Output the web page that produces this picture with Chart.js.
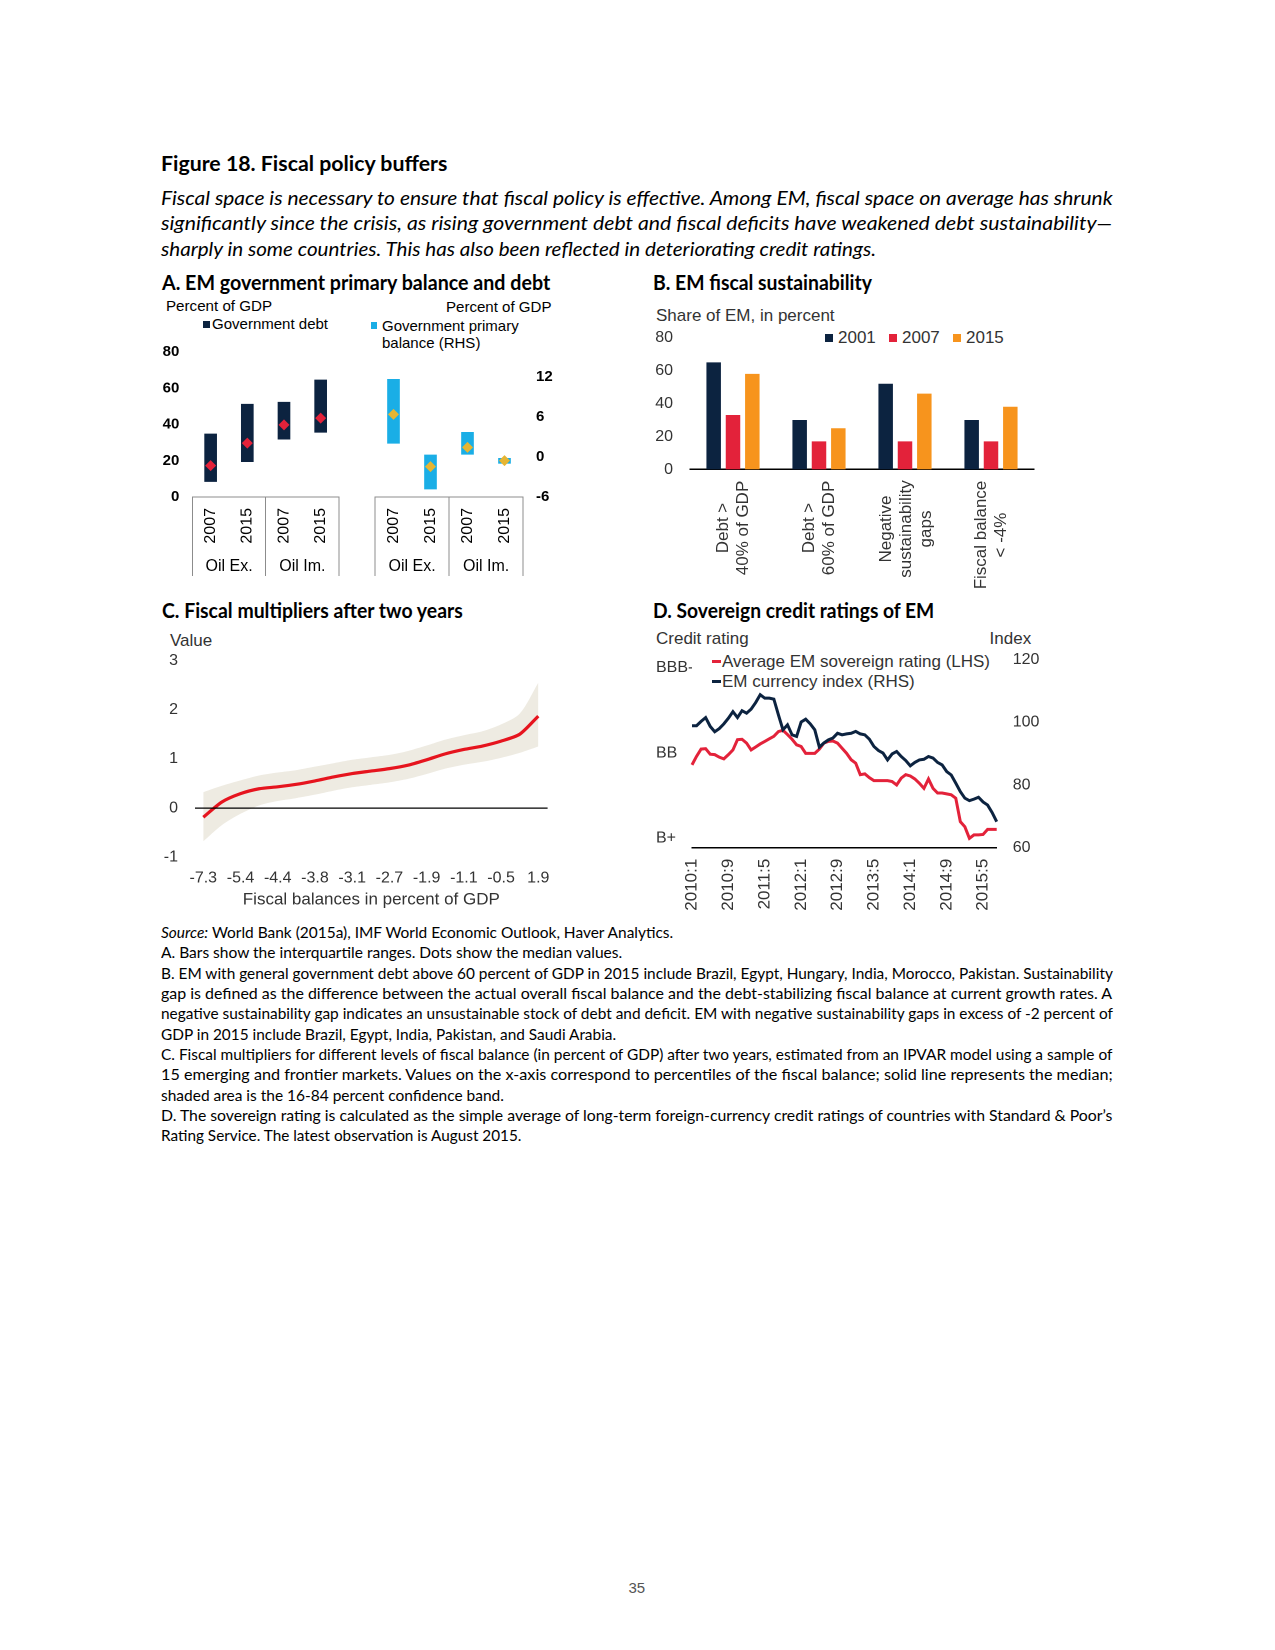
<!DOCTYPE html>
<html><head><meta charset="utf-8">
<script src="https://cdn.jsdelivr.net/npm/chart.js@4.4.1/dist/chart.umd.min.js"></script>
<style>
html,body{margin:0;padding:0;background:#fff;}
#page{position:relative;width:1275px;height:1650px;background:#fff;overflow:hidden;}
.t{position:absolute;white-space:nowrap;transform-origin:0 50%;}
canvas{position:absolute;}
.sq{position:absolute;}
</style></head><body><div id="page"></div>
<script>
// ---------------- DATA ----------------
// Panel A
const aCats = ['2007', '2015', '2007', '2015'];
const aGroups = ['Oil Ex.', 'Oil Im.'];
const debtLow = [8.5, 19.5, 31.9, 35.7];
const debtHigh = [34.8, 51.2, 52.3, 64.6];
const debtMedian = [17.3, 29.7, 39.8, 43.5];
const balLow = [2.05, -4.8, 0.4, -0.95];
const balHigh = [11.65, 0.3, 3.7, -0.2];
const balMedian = [6.4, -1.45, 1.45, -0.55];

// Panel B
const bCats = [['Debt >', '40% of GDP'], ['Debt >', '60% of GDP'], ['Negative', 'sustainability', 'gaps'], ['Fiscal balance', '< -4%']];
const bYears = ['2001', '2007', '2015'];
const b2001 = [65, 30, 52, 30];
const b2007 = [33, 17, 17, 17];
const b2015 = [58, 25, 46, 38];

// Panel C
const cTicks = ['-7.3', '-5.4', '-4.4', '-3.8', '-3.1', '-2.7', '-1.9', '-1.1', '-0.5', '1.9'];
const cPos = [0, 0.5, 1, 1.5, 2, 2.5, 3, 3.5, 4, 4.5, 5, 5.5, 6, 6.5, 7, 7.5, 8, 8.5, 9];
const cMedian = [-0.19, 0.12, 0.29, 0.39, 0.43, 0.48, 0.55, 0.63, 0.70, 0.75, 0.80, 0.87, 0.98, 1.10, 1.19, 1.26, 1.36, 1.50, 1.87];
const cLower = [-0.68, -0.35, -0.12, 0.05, 0.14, 0.20, 0.27, 0.35, 0.42, 0.47, 0.52, 0.59, 0.69, 0.80, 0.88, 0.94, 1.02, 1.12, 1.25];
const cUpper = [0.32, 0.45, 0.56, 0.66, 0.72, 0.77, 0.84, 0.91, 0.98, 1.03, 1.08, 1.16, 1.27, 1.39, 1.48, 1.56, 1.70, 1.92, 2.55];

// Panel D
const dRatingScale = ['B+', 'BB-', 'BB', 'BB+', 'BBB-'];
const dStartYear = 2010, dMonths = 68;
const dRating = [1.72,1.92,2.09,2.10,1.97,1.96,1.90,1.86,1.96,2.07,
  2.31,2.32,2.23,2.07,2.14,2.21,2.27,2.33,2.39,2.50,
  2.53,2.43,2.32,2.19,2.15,1.99,1.99,1.99,2.09,2.23,
  2.27,2.28,2.23,2.11,1.99,1.84,1.76,1.49,1.51,1.42,
  1.35,1.35,1.35,1.35,1.33,1.25,1.41,1.49,1.46,1.39,
  1.29,1.17,1.39,1.17,1.06,1.06,1.04,1.02,0.94,0.39,
  0.27,0.00,0.08,0.08,0.09,0.21,0.21,0.21];
const dCurrency = [98.9,98.9,100.3,101.5,98.7,97.0,98.0,99.5,101.3,103.4,
  101.5,103.7,102.9,104.2,106.3,108.8,107.7,107.7,107.4,102.4,
  97.6,99.2,96.0,95.5,100.1,101.0,99.5,97.6,92.1,93.4,
  94.4,95.0,96.5,96.0,96.3,96.5,97.1,96.3,96.0,94.6,
  92.3,91.0,90.2,88.0,89.9,90.7,89.1,87.8,86.1,87.2,
  88.0,88.2,89.1,88.6,87.2,86.4,84.3,83.2,80.6,77.9,
  75.8,75.0,75.5,76.1,74.6,73.6,71.2,68.3];
const dLabels = [];
for (let i = 0; i < dMonths; i++) dLabels.push((dStartYear + Math.floor(i / 12)) + ':' + (i % 12 + 1));

// ---------------- STYLE ----------------
const NAVY = '#0c2340', RED = '#e3223a', CRED = '#e6141e', ORANGE = '#f7941d', LBLUE = '#1aaee6', GOLD = '#e6b532';
const BEIGE = '#eeebe2', GREY = '#8c8c8c', TXT = '#333333';
const CAL = 'Lato, "Open Sans", sans-serif';
const ARI = '"Liberation Sans", Arial, sans-serif';

const page = document.getElementById('page');
Chart.defaults.font.family = ARI;
Chart.defaults.color = TXT;

function txt(html, x, yc, o = {}) {
  const size = o.size || 16, lh = o.lh || Math.round(size * 1.25);
  const d = document.createElement('div');
  d.className = 't';
  d.style.font = `${o.style || 'normal'} ${o.weight || 'normal'} ${size}px ${o.family || ARI}`;
  d.style.lineHeight = lh + 'px';
  d.style.color = o.color || '#000';
  d.innerHTML = html;
  page.appendChild(d);
  const nat = d.offsetWidth;
  const sx = o.w ? o.w / nat : 1;
  const vis = nat * sx;
  let left = x;
  if (o.align === 'right') left = x - vis; else if (o.align === 'center') left = x - vis / 2;
  d.style.left = left + 'px';
  d.style.top = (yc - lh / 2) + 'px';
  if (sx !== 1) d.style.transform = `scaleX(${sx})`;
  return d;
}
function box(x, y, w, h, color) {
  const d = document.createElement('div');
  d.className = 'sq';
  d.style.cssText += `left:${x}px;top:${y}px;width:${w}px;height:${h}px;background:${color};`;
  page.appendChild(d);
}
function canvas(left, top, w, h) {
  const c = document.createElement('canvas');
  c.width = w; c.height = h;
  c.style.left = left + 'px'; c.style.top = top + 'px';
  c.style.width = w + 'px'; c.style.height = h + 'px';
  page.appendChild(c);
  return c;
}
// Create a chart and shift/resize its canvas so that the plot area lands on the wanted box.
function placeChart(want, init, build) {
  let {left, top, w, h} = init;
  let chart, cv;
  for (let it = 0; it < 4; it++) {
    cv = canvas(left, top, w, h);
    chart = new Chart(cv, build());
    const ca = chart.chartArea;
    const dl = want.l - (left + ca.left), dt = want.t - (top + ca.top);
    const dw = Math.round((want.r - want.l) - (ca.right - ca.left));
    const dh = Math.round((want.b - want.t) - (ca.bottom - ca.top));
    if (Math.abs(dl) < 0.3 && Math.abs(dt) < 0.3 && dw === 0 && dh === 0) break;
    if (it === 3) break;
    chart.destroy(); cv.remove();
    left += dl; top += dt; w += dw; h += dh;
  }
  return {chart, left, top};
}
function rotLabel(lines, cx, topY, size, lh) {
  const d = document.createElement('div');
  d.style.cssText = `position:absolute;white-space:pre;text-align:center;font:${size}px ${ARI};line-height:${lh}px;color:${TXT};`;
  d.textContent = lines.join('\n');
  page.appendChild(d);
  const w = d.offsetWidth, h = d.offsetHeight;
  d.style.left = (cx - w / 2) + 'px';
  d.style.top = (topY + w / 2 - h / 2) + 'px';
  d.style.transform = 'rotate(-90deg)';
}

// ---------------- HEADER TEXT ----------------
const FULL = 951.5;
txt('Figure 18. Fiscal policy buffers', 161, 163, {size: 21, weight: 'bold', family: CAL, w: 286});
txt('Fiscal space is necessary to ensure that fiscal policy is effective. Among EM, fiscal space on average has shrunk', 161, 198, {size: 19.5, style: 'italic', family: CAL, w: FULL});
txt('significantly since the crisis, as rising government debt and fiscal deficits have weakened debt sustainability—', 161, 223, {size: 19.5, style: 'italic', family: CAL, w: FULL});
txt('sharply in some countries. This has also been reflected in deteriorating credit ratings.', 161, 249, {size: 19.5, style: 'italic', family: CAL, w: 715});

txt('A. EM government primary balance and debt', 161.7, 282, {size: 20, weight: 'bold', family: CAL, w: 388});
txt('B. EM fiscal sustainability', 653, 282, {size: 20, weight: 'bold', family: CAL, w: 219});
txt('C. Fiscal multipliers after two years', 161.7, 610, {size: 20, weight: 'bold', family: CAL, w: 301});
txt('D. Sovereign credit ratings of EM', 652.7, 610, {size: 20, weight: 'bold', family: CAL, w: 281});

// ---------------- FOOTNOTES ----------------
const notes = [
  ['<i>Source:</i> World Bank (2015a), IMF World Economic Outlook, Haver Analytics.', 512],
  ['A. Bars show the interquartile ranges. Dots show the median values.', 461],
  ['B. EM with general government debt above 60 percent of GDP in 2015 include Brazil, Egypt, Hungary, India, Morocco, Pakistan. Sustainability', FULL],
  ['gap is defined as the difference between the actual overall fiscal balance and the debt-stabilizing fiscal balance at current growth rates. A', FULL],
  ['negative sustainability gap indicates an unsustainable stock of debt and deficit. EM with negative sustainability gaps in excess of -2 percent of', FULL],
  ['GDP in 2015 include Brazil, Egypt, India, Pakistan, and Saudi Arabia.', 455],
  ['C. Fiscal multipliers for different levels of fiscal balance (in percent of GDP) after two years, estimated from an IPVAR model using a sample of', FULL],
  ['15 emerging and frontier markets. Values on the x-axis correspond to percentiles of the fiscal balance; solid line represents the median;', FULL],
  ['shaded area is the 16-84 percent confidence band.', 342.5],
  ['D. The sovereign rating is calculated as the simple average of long-term foreign-currency credit ratings of countries with Standard &amp; Poor’s', FULL],
  ['Rating Service. The latest observation is August 2015.', 360]
];
const noteY = [931, 951.6, 972.2, 992.5, 1012.8, 1033.2, 1053.5, 1073.8, 1094, 1114.4, 1134.6];
notes.forEach((n, i) => txt(n[0], 161, noteY[i], {size: 16, family: CAL, w: n[1], lh: 19}));
txt('35', 637, 1587, {size: 15, align: 'center', color: '#555'});

const baseOpts = () => ({responsive: false, animation: false, events: [], devicePixelRatio: 2,
  plugins: {legend: {display: false}, tooltip: {enabled: false}}});

// ---------------- PANEL A ----------------
txt('Percent of GDP', 166, 306, {size: 14, lh: 11, w: 106});
box(203, 321, 6.5, 6.5, NAVY);
txt('Government debt', 212, 324, {size: 14.5, lh: 11, w: 116});
box(370.5, 322, 6.5, 6.5, LBLUE);
txt('Government primary', 382, 325.5, {size: 15, lh: 13});
txt('balance (RHS)', 382, 342.5, {size: 15, lh: 13});
txt('Percent of GDP', 446, 307.5, {size: 14.5, lh: 11, w: 106});

function aXScale() {
  return {
    offset: true,
    grid: {offset: true, drawOnChartArea: false, drawTicks: true, tickLength: 79,
      color: ctx => (ctx.index === 1 || ctx.index === 3) ? 'rgba(0,0,0,0)' : GREY, lineWidth: 1},
    border: {display: true, color: GREY, width: 1},
    ticks: {minRotation: 90, maxRotation: 90, padding: -68, color: '#000', font: {size: 16}, autoSkip: false},
    afterFit: s => { s.height = 103; }
  };
}
const A1 = placeChart({l: 192.3, t: 352, r: 339, b: 497}, {left: 150, top: 330, w: 200, h: 270}, () => ({
  type: 'bar',
  data: {labels: aCats, datasets: [
    {type: 'line', label: 'Median', data: debtMedian, showLine: false, pointStyle: 'rectRot', pointRadius: 5.5,
      pointBackgroundColor: RED, pointBorderWidth: 0, order: 0},
    {type: 'bar', label: 'Government debt', data: debtLow.map((v, i) => [v, debtHigh[i]]), backgroundColor: NAVY,
      barThickness: 12, order: 1}
  ]},
  options: Object.assign(baseOpts(), {
    layout: {padding: {top: 22, right: 11, left: 0, bottom: 0}},
    scales: {
      x: aXScale(),
      y: {min: 0, max: 80, ticks: {stepSize: 20, padding: 5, color: '#000', font: {size: 15, weight: 'bold'}},
        grid: {display: false}, border: {display: false}, afterFit: s => { s.width = 42.3; }}
    }
  })
}));
const A2 = placeChart({l: 375, t: 377, r: 523, b: 497}, {left: 360, top: 330, w: 200, h: 270}, () => ({
  type: 'bar',
  data: {labels: aCats, datasets: [
    {type: 'line', label: 'Median', data: balMedian, showLine: false, pointStyle: 'rectRot', pointRadius: 5.5,
      pointBackgroundColor: GOLD, pointBorderWidth: 0, order: 0},
    {type: 'bar', label: 'Government primary balance (RHS)', data: balLow.map((v, i) => [v, balHigh[i]]),
      backgroundColor: LBLUE, barThickness: 12, order: 1}
  ]},
  options: Object.assign(baseOpts(), {
    layout: {padding: {top: 47, right: 0, left: 15, bottom: 0}},
    scales: {
      x: aXScale(),
      y: {position: 'right', min: -6, max: 12, ticks: {stepSize: 6, padding: 5, color: '#000', font: {size: 15, weight: 'bold'}},
        grid: {display: false}, border: {display: false}, afterFit: s => { s.width = 40; }}
    }
  })
}));
[A1, A2].forEach(({chart, left}) => {
  const x = chart.scales.x;
  for (let g = 0; g < 2; g++) {
    const cx = left + (x.getPixelForValue(2 * g) + x.getPixelForValue(2 * g + 1)) / 2;
    txt(aGroups[g], cx, 566, {size: 16, align: 'center'});
  }
});

// ---------------- PANEL B ----------------
txt('Share of EM, in percent', 656, 315, {size: 17, color: TXT});
const bCols = [NAVY, RED, ORANGE];
const bLegX = [825, 889, 953];
bYears.forEach((y, i) => {
  box(bLegX[i], 333.5, 8, 8, bCols[i]);
  txt(y, bLegX[i] + 13, 337.5, {size: 17, color: TXT});
});
const B = placeChart({l: 690, t: 338, r: 1034, b: 469.3}, {left: 640, top: 320, w: 400, h: 160}, () => ({
  type: 'bar',
  data: {labels: bCats.map(l => l.join(' ')), datasets: [
    {label: bYears[0], data: b2001, backgroundColor: NAVY},
    {label: bYears[1], data: b2007, backgroundColor: RED},
    {label: bYears[2], data: b2015, backgroundColor: ORANGE}
  ]},
  options: Object.assign(baseOpts(), {
    datasets: {bar: {barPercentage: 0.75, categoryPercentage: 0.674}},
    layout: {padding: {top: 18, right: 6, left: 0, bottom: 0}},
    scales: {
      x: {ticks: {display: false}, grid: {display: false}, border: {display: true, color: '#000', width: 1.5},
        afterFit: s => { s.height = 10.7; }},
      y: {min: 0, max: 80, ticks: {stepSize: 20, padding: 9, font: {size: 16}, color: TXT},
        grid: {display: false}, border: {display: false}, afterFit: s => { s.width = 50; }}
    }
  })
}));
bCats.forEach((lines, i) => rotLabel(lines, B.left + B.chart.scales.x.getPixelForValue(i), 480, 17, 20));

// ---------------- PANEL C ----------------
txt('Value', 170, 640, {size: 17, color: TXT});
placeChart({l: 195, t: 661, r: 547.6, b: 857}, {left: 150, top: 640, w: 410, h: 280}, () => ({
  type: 'line',
  data: {datasets: [
    {label: '16th percentile', data: cPos.map((x, i) => ({x, y: cLower[i]})), borderWidth: 0, pointRadius: 0, fill: false, tension: 0.3, order: 2},
    {label: '84th percentile', data: cPos.map((x, i) => ({x, y: cUpper[i]})), borderWidth: 0, pointRadius: 0,
      fill: '-1', backgroundColor: BEIGE, tension: 0.3, order: 2},
    {label: 'Median', data: cPos.map((x, i) => ({x, y: cMedian[i]})), borderColor: CRED, borderWidth: 3.2,
      pointRadius: 0, fill: false, tension: 0.25, order: 0}
  ]},
  options: Object.assign(baseOpts(), {
    layout: {padding: {top: 21, right: 12.4, left: 0, bottom: 0}},
    scales: {
      x: {type: 'linear', min: -0.223, max: 9.25,
        afterBuildTicks: s => { s.ticks = cTicks.map((_, i) => ({value: i})); },
        ticks: {autoSkip: false, maxRotation: 0, padding: 3.5, font: {size: 16}, color: TXT,
          callback: (v, i) => cTicks[i]},
        grid: {display: false}, border: {display: false},
        title: {display: true, text: 'Fiscal balances in percent of GDP', font: {size: 17}, color: TXT, padding: {top: 0, bottom: 10}},
        afterFit: s => { s.height = 63; }},
      y: {min: -1, max: 3, ticks: {stepSize: 1, padding: 17, font: {size: 16}, color: TXT},
        grid: {drawTicks: false, z: 1, color: ctx => (ctx.tick && ctx.tick.value === 0) ? '#000' : 'rgba(0,0,0,0)', lineWidth: 1.2},
        border: {display: false}, afterFit: s => { s.width = 45; }}
    }
  })
}));

// ---------------- PANEL D ----------------
txt('Credit rating', 656, 638, {size: 17, color: TXT});
txt('Index', 1031.6, 638, {size: 17, color: TXT, align: 'right'});
box(711.7, 660.2, 9, 3, RED);
txt('Average EM sovereign rating (LHS)', 722, 661.7, {size: 17, color: TXT, lh: 19});
box(711.7, 680.2, 9, 3, NAVY);
txt('EM currency index (RHS)', 722, 681.7, {size: 17, color: TXT, lh: 19});
placeChart({l: 691.7, t: 660, r: 996.7, b: 847.7}, {left: 640, top: 650, w: 410, h: 280}, () => ({
  type: 'line',
  data: {labels: dLabels, datasets: [
    {label: 'EM currency index (RHS)', data: dCurrency, yAxisID: 'y1', borderColor: NAVY, borderWidth: 3,
      pointRadius: 0, fill: false, order: 0},
    {label: 'Average EM sovereign rating (LHS)', data: dRating, yAxisID: 'y', borderColor: RED, borderWidth: 3,
      pointRadius: 0, fill: false, order: 1}
  ]},
  options: Object.assign(baseOpts(), {
    layout: {padding: {top: 10, right: 0, left: 17, bottom: 0}},
    scales: {
      x: {offset: false, grid: {display: false}, border: {display: true, color: '#000', width: 1.5},
        ticks: {autoSkip: false, minRotation: 90, maxRotation: 90, padding: 3, font: {size: 17}, color: TXT,
          callback: function (v, i) { return i % 8 === 0 ? this.getLabelForValue(v) : ''; }},
        afterFit: s => { s.height = 82.3; }},
      y: {position: 'left', min: -0.22, max: 4.186,
        afterBuildTicks: s => { s.ticks = [0, 2, 4].map(v => ({value: v})); },
        ticks: {crossAlign: 'far', padding: 8, font: {size: 16}, color: TXT, callback: v => dRatingScale[v]},
        grid: {display: false}, border: {display: false}, afterFit: s => { s.width = 36; }},
      y1: {position: 'right', min: 60, max: 120, ticks: {stepSize: 20, padding: 8, font: {size: 16}, color: TXT},
        grid: {display: false}, border: {display: false}, afterFit: s => { s.width = 53.3; }}
    }
  })
}));
</script>
</body></html>
